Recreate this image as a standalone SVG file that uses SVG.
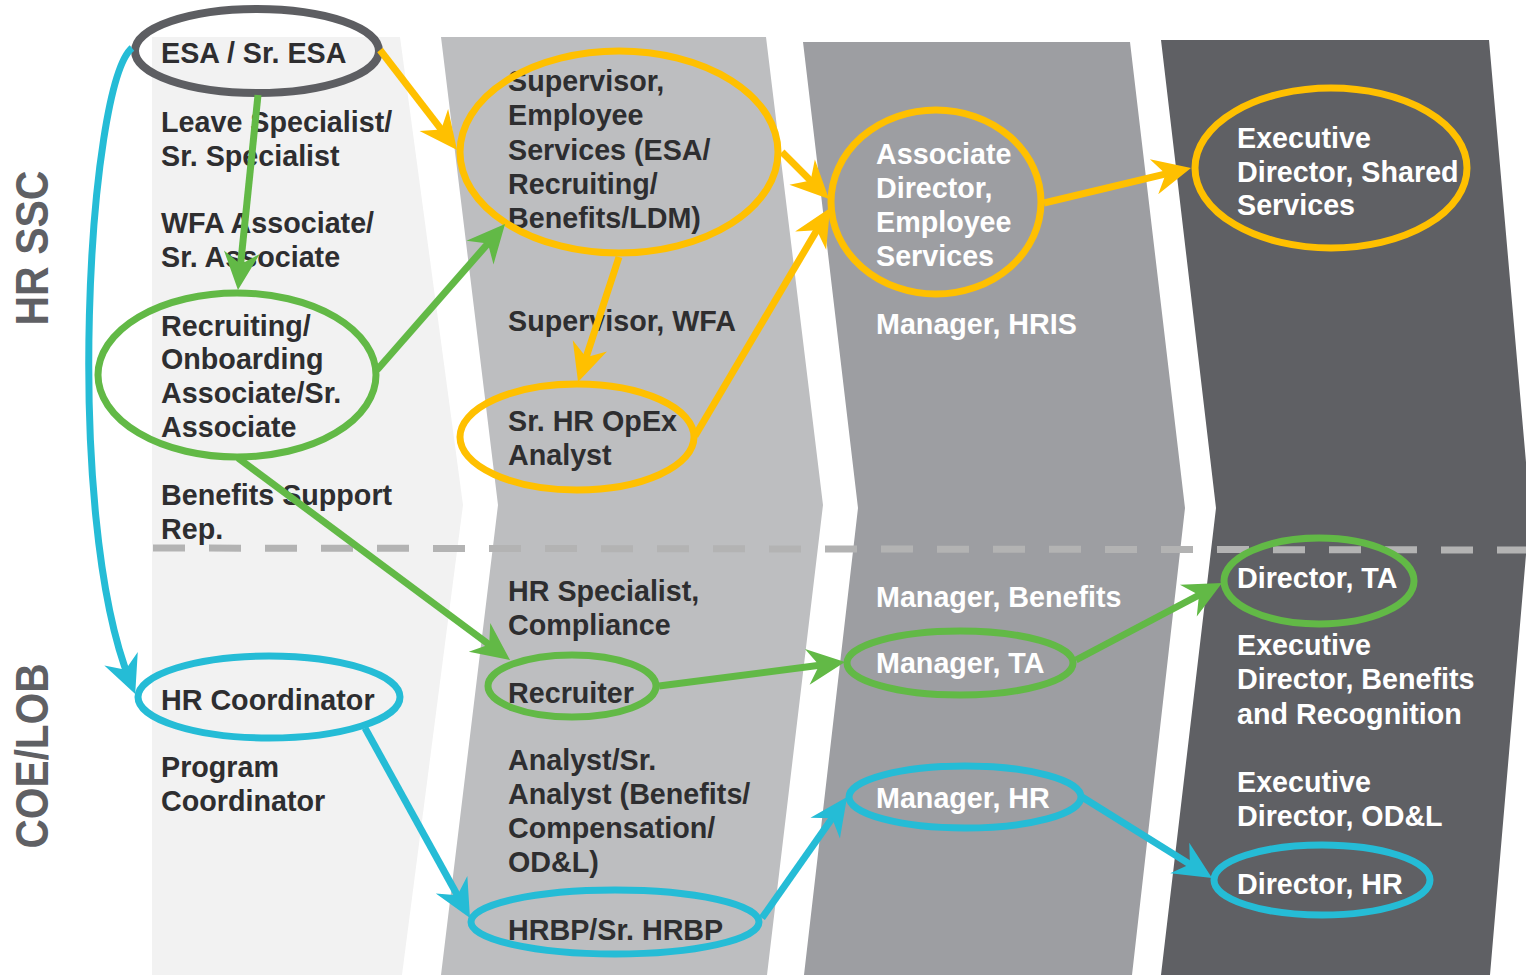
<svg xmlns="http://www.w3.org/2000/svg" width="1526" height="975" viewBox="0 0 1526 975">
<style>
  .t { font-family: "Liberation Sans", Arial, sans-serif; font-weight: bold; font-size: 28.7px; fill: #2e2e30; }
  .w { font-family: "Liberation Sans", Arial, sans-serif; font-weight: bold; font-size: 28.7px; fill: #ffffff; }
  .side { font-family: "Liberation Sans", Arial, sans-serif; font-weight: bold; font-size: 46px; fill: #5f6064; }
  .e { fill: none; stroke-width: 7; }
  .gray { stroke: #5d5e62; stroke-width: 8; }
  .yel { stroke: #ffc000; }
  .grn { stroke: #62b946; }
  .cyn { stroke: #25bcd6; }
  .c { fill: none; stroke-width: 7; }
</style>
<defs>
  <marker id="ay" markerUnits="userSpaceOnUse" orient="auto" markerWidth="60" markerHeight="60" refX="0" refY="0" viewBox="-30 -30 60 60" overflow="visible">
    <path d="M14,0 L-24,-18 L-12,0 L-24,18 Z" fill="#ffc000"/>
  </marker>
  <marker id="ag" markerUnits="userSpaceOnUse" orient="auto" markerWidth="60" markerHeight="60" refX="0" refY="0" viewBox="-30 -30 60 60" overflow="visible">
    <path d="M14,0 L-24,-18 L-12,0 L-24,18 Z" fill="#62b946"/>
  </marker>
  <marker id="ac" markerUnits="userSpaceOnUse" orient="auto" markerWidth="60" markerHeight="60" refX="0" refY="0" viewBox="-30 -30 60 60" overflow="visible">
    <path d="M14,0 L-24,-18 L-12,0 L-24,18 Z" fill="#25bcd6"/>
  </marker>
</defs>
<rect width="1526" height="975" fill="#ffffff"/>
<g id="columns">
  <polygon points="152,37 400,37 463,505 402,975 152,975" fill="#f2f2f2"/>
  <polygon points="441,37 766,37 823,505 767,975 441,975 498,505" fill="#bdbec0"/>
  <polygon points="803,42 1130,42 1185,508 1132,975 804,975 858,508" fill="#9d9ea2"/>
  <polygon points="1161,40 1489,40 1530,508 1490,975 1161,975 1216,508" fill="#5f6064"/>
</g>
<line id="divider" x1="153" y1="548" x2="1526" y2="550" stroke="#b3b3b3" stroke-width="7" stroke-dasharray="32 24"/>
<g id="side-labels">
  <text class="side" transform="translate(48,248) rotate(-90)" text-anchor="middle" textLength="155" lengthAdjust="spacingAndGlyphs">HR SSC</text>
  <text class="side" transform="translate(48,756) rotate(-90)" text-anchor="middle" textLength="185" lengthAdjust="spacingAndGlyphs">COE/LOB</text>
</g>
<!-- Column 1 -->
<g id="n-esa">
  <text class="t" x="161" y="63">ESA / Sr. ESA</text>
  <ellipse class="e gray" cx="257" cy="51" rx="122" ry="42"/>
</g>
<g id="n-leave">
  <text class="t" x="161" y="132">Leave Specialist/</text>
  <text class="t" x="161" y="166">Sr. Specialist</text>
</g>
<g id="n-wfa">
  <text class="t" x="161" y="233">WFA Associate/</text>
  <text class="t" x="161" y="267">Sr. Associate</text>
</g>
<g id="n-recruiting">
  <text class="t" x="161" y="336">Recruiting/</text>
  <text class="t" x="161" y="369">Onboarding</text>
  <text class="t" x="161" y="403">Associate/Sr.</text>
  <text class="t" x="161" y="437">Associate</text>
  <ellipse class="e grn" cx="237" cy="375" rx="139" ry="82"/>
</g>
<g id="n-benefits-support">
  <text class="t" x="161" y="505">Benefits Support</text>
  <text class="t" x="161" y="539">Rep.</text>
</g>
<g id="n-hr-coordinator">
  <text class="t" x="161" y="710">HR Coordinator</text>
  <ellipse class="e cyn" cx="269" cy="697" rx="131" ry="41"/>
</g>
<g id="n-program-coordinator">
  <text class="t" x="161" y="777">Program</text>
  <text class="t" x="161" y="811">Coordinator</text>
</g>
<!-- Column 2 -->
<g id="n-supervisor-es">
  <text class="t" x="508" y="91">Supervisor,</text>
  <text class="t" x="508" y="125">Employee</text>
  <text class="t" x="508" y="160">Services (ESA/</text>
  <text class="t" x="508" y="194">Recruiting/</text>
  <text class="t" x="508" y="228">Benefits/LDM)</text>
  <ellipse class="e yel" cx="619" cy="152" rx="159" ry="101"/>
</g>
<g id="n-supervisor-wfa">
  <text class="t" x="508" y="331">Supervisor, WFA</text>
</g>
<g id="n-opex">
  <text class="t" x="508" y="431">Sr. HR OpEx</text>
  <text class="t" x="508" y="465">Analyst</text>
  <ellipse class="e yel" cx="577" cy="437" rx="117" ry="53"/>
</g>
<g id="n-hr-specialist">
  <text class="t" x="508" y="601">HR Specialist,</text>
  <text class="t" x="508" y="635">Compliance</text>
</g>
<g id="n-recruiter">
  <text class="t" x="508" y="703">Recruiter</text>
  <ellipse class="e grn" cx="572" cy="686" rx="84" ry="31"/>
</g>
<g id="n-analyst">
  <text class="t" x="508" y="770">Analyst/Sr.</text>
  <text class="t" x="508" y="804">Analyst (Benefits/</text>
  <text class="t" x="508" y="838">Compensation/</text>
  <text class="t" x="508" y="872">OD&amp;L)</text>
</g>
<g id="n-hrbp">
  <text class="t" x="508" y="940">HRBP/Sr. HRBP</text>
  <ellipse class="e cyn" cx="615" cy="922" rx="144" ry="32"/>
</g>
<!-- Column 3 -->
<g id="n-assoc-director">
  <text class="w" x="876" y="164">Associate</text>
  <text class="w" x="876" y="198">Director,</text>
  <text class="w" x="876" y="232">Employee</text>
  <text class="w" x="876" y="266">Services</text>
  <ellipse class="e yel" cx="936" cy="202" rx="105" ry="92"/>
</g>
<g id="n-mgr-hris">
  <text class="w" x="876" y="334">Manager, HRIS</text>
</g>
<g id="n-mgr-benefits">
  <text class="w" x="876" y="607">Manager, Benefits</text>
</g>
<g id="n-mgr-ta">
  <text class="w" x="876" y="673">Manager, TA</text>
  <ellipse class="e grn" cx="960" cy="663" rx="113" ry="32"/>
</g>
<g id="n-mgr-hr">
  <text class="w" x="876" y="808">Manager, HR</text>
  <ellipse class="e cyn" cx="965" cy="797" rx="116" ry="31"/>
</g>
<!-- Column 4 -->
<g id="n-exec-shared">
  <text class="w" x="1237" y="148">Executive</text>
  <text class="w" x="1237" y="182">Director, Shared</text>
  <text class="w" x="1237" y="215">Services</text>
  <ellipse class="e yel" cx="1331" cy="168" rx="136" ry="80"/>
</g>
<g id="n-dir-ta">
  <text class="w" x="1237" y="588">Director, TA</text>
  <ellipse class="e grn" cx="1319" cy="581" rx="95" ry="43"/>
</g>
<g id="n-exec-benefits">
  <text class="w" x="1237" y="655">Executive</text>
  <text class="w" x="1237" y="689">Director, Benefits</text>
  <text class="w" x="1237" y="724">and Recognition</text>
</g>
<g id="n-exec-odl">
  <text class="w" x="1237" y="792">Executive</text>
  <text class="w" x="1237" y="826">Director, OD&amp;L</text>
</g>
<g id="n-dir-hr">
  <text class="w" x="1237" y="894">Director, HR</text>
  <ellipse class="e cyn" cx="1322" cy="880" rx="108" ry="35"/>
</g>
<g id="connectors">
  <!-- green -->
  <path class="c grn" d="M258,95 L239.4,276.1" marker-end="url(#ag)"/>
  <path class="c grn" d="M377,370 L495.8,234.5" marker-end="url(#ag)"/>
  <path class="c grn" d="M238,458 L498.8,651.7" marker-end="url(#ag)"/>
  <path class="c grn" d="M659,686 L831.1,663.8" marker-end="url(#ag)"/>
  <path class="c grn" d="M1076,660 L1209.6,589.5" marker-end="url(#ag)"/>
  <!-- yellow -->
  <path class="c yel" d="M380,50 L448.5,138.9" marker-end="url(#ay)"/>
  <path class="c yel" d="M782,152 L819.1,189.1" marker-end="url(#ay)"/>
  <path class="c yel" d="M619,257 L582.4,368.7" marker-end="url(#ay)"/>
  <path class="c yel" d="M695,436 L822.9,220" marker-end="url(#ay)"/>
  <path class="c yel" d="M1044,203 L1177.4,171.2" marker-end="url(#ay)"/>
  <!-- cyan -->
  <path class="c cyn" d="M132,48 C88,85 63,514 130,681" marker-end="url(#ac)"/>
  <path class="c cyn" d="M365,728 L463.2,905.7" marker-end="url(#ac)"/>
  <path class="c cyn" d="M762,918 L839,808.5" marker-end="url(#ac)"/>
  <path class="c cyn" d="M1082,797 L1200.1,870.6" marker-end="url(#ac)"/>
</g>
</svg>
